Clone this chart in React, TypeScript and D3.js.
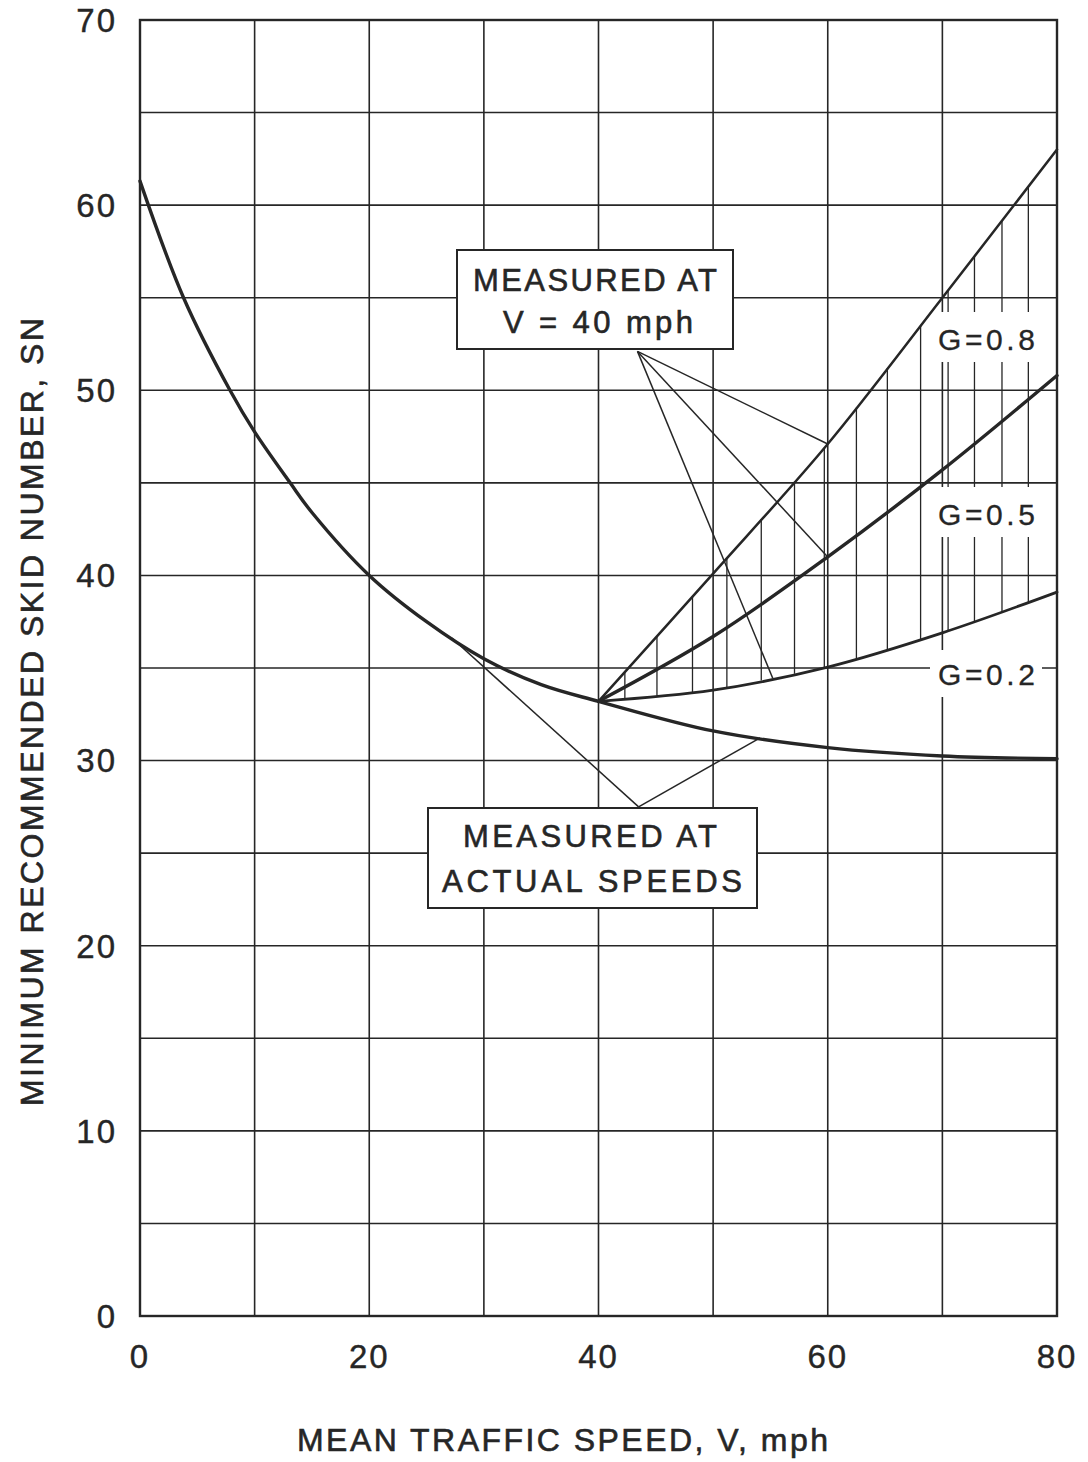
import * as d3 from "d3";

// axis ticks and grid
const SPEED_TICKS = [0, 20, 40, 60, 80];
const SN_TICKS = [0, 10, 20, 30, 40, 50, 60, 70];
const SPEED_GRID = [0, 10, 20, 30, 40, 50, 60, 70, 80];
const SN_GRID = [0, 5, 10, 15, 20, 25, 30, 35, 40, 45, 50, 55, 60, 65, 70];

// minimum recommended SN, measured at actual speeds
const baseCurve: [number, number][] = [
  [0, 61.3], [3.8, 55], [7.85, 50], [10, 47.75], [13.1, 45], [15, 43.4],
  [20, 40], [25, 37.5], [30, 35.5], [35, 34.1], [40, 33.2], [50, 31.6],
  [60, 30.7], [70, 30.25], [80, 30.1],
];

// measured at V = 40 mph, by gradient G
const g08: [number, number][] = [[40, 33.2], [50, 40.1], [60, 47.1], [70, 55], [80, 63]];
const g05: [number, number][] = [[40, 33.2], [50, 36.7], [60, 41], [70, 45.7], [80, 50.8]];
const g02: [number, number][] = [[40, 33.2], [50, 33.8], [60, 35.05], [70, 36.9], [80, 39.1]];

// hatch positions (mph) between G=0.2 and G=0.8
const hatchSpeeds = [42.3, 45.1, 48.2, 51.2, 54.2, 57.1, 59.7, 62.5, 65.2, 68.1, 70.5, 72.8, 75.2, 77.5];

const W = 1088;
const H = 1462;
const INK = "#262626";
const FONT = "'Liberation Sans', Arial, sans-serif";

const x = d3.scaleLinear().domain([0, 80]).range([140, 1057]);
const y = d3.scaleLinear().domain([0, 70]).range([1316, 20]);

const line = d3
  .line<[number, number]>()
  .x((d) => x(d[0]))
  .y((d) => y(d[1]))
  .curve(d3.curveCatmullRom.alpha(0.5));

const interp = (pts: [number, number][]) =>
  d3.scaleLinear().domain(pts.map((p) => p[0])).range(pts.map((p) => p[1]));

const top08 = interp(g08);
const top05 = interp(g05);
const bot02 = interp(g02);
const base = interp(baseCurve);

// leader lines from the two boxes (speed, SN)
const v40Anchor: [number, number] = [43.4, 52.1];
const v40Targets: [number, number][] = [
  [60, top08(60)],
  [60, top05(60)],
  [55.2, bot02(55.2)],
];
const actualAnchor: [number, number] = [43.5, 27.5];
const actualTargets: [number, number][] = [
  [27.2, base(27.2)],
  [54.1, base(54.1)],
];

const gLabels = [
  { text: "G=0.8", yBase: 350, top: 312, bottom: 362 },
  { text: "G=0.5", yBase: 525, top: 487, bottom: 537 },
  { text: "G=0.2", yBase: 685, top: 650, bottom: 697 },
];

const textInk = { fill: INK, stroke: INK, strokeWidth: 0.6 };

const App = () => {
  return (
    <svg
      width={W}
      height={H}
      style={{ position: "absolute", left: 0, top: 0, background: "#fff" }}
      fontFamily={FONT}
    >
      <rect x={0} y={0} width={W} height={H} fill="#fff" />

      {/* grid */}
      <g stroke={INK} strokeWidth={1.6}>
        {SPEED_GRID.map((s) => (
          <line key={"vx" + s} x1={x(s)} x2={x(s)} y1={y(70)} y2={y(0)} />
        ))}
        {SN_GRID.map((v) => (
          <line key={"hy" + v} x1={x(0)} x2={x(80)} y1={y(v)} y2={y(v)} />
        ))}
      </g>

      {/* hatch between G=0.2 and G=0.8 */}
      <g stroke={INK} strokeWidth={1.3}>
        {hatchSpeeds.map((s) => (
          <line key={"h" + s} x1={x(s)} x2={x(s)} y1={y(bot02(s))} y2={y(top08(s))} />
        ))}
      </g>

      {/* label backgrounds */}
      {gLabels.map((g) => (
        <rect key={"bg" + g.text} x={930} y={g.top} width={112} height={g.bottom - g.top} fill="#fff" />
      ))}

      {/* curves */}
      <g fill="none" stroke={INK} strokeLinecap="round">
        <path d={line(baseCurve) ?? ""} strokeWidth={3.4} />
        <path d={line(g08) ?? ""} strokeWidth={2.5} />
        <path d={line(g05) ?? ""} strokeWidth={3.4} />
        <path d={line(g02) ?? ""} strokeWidth={2.8} />
      </g>

      {/* leaders */}
      <g stroke={INK} strokeWidth={1.5}>
        {v40Targets.map((t, i) => (
          <line key={"l40" + i} x1={x(v40Anchor[0])} y1={y(v40Anchor[1])} x2={x(t[0])} y2={y(t[1])} />
        ))}
        {actualTargets.map((t, i) => (
          <line key={"la" + i} x1={x(actualAnchor[0])} y1={y(actualAnchor[1])} x2={x(t[0])} y2={y(t[1])} />
        ))}
      </g>

      {/* G labels */}
      {gLabels.map((g) => (
        <text
          key={g.text}
          x={938}
          y={g.yBase}
          fontSize={30}
          {...textInk}
          strokeWidth={0.3}
          textLength={97}
          lengthAdjust="spacing"
        >
          {g.text}
        </text>
      ))}

      {/* annotation boxes */}
      <g>
        <rect x={457} y={250} width={276} height={99} fill="#fff" stroke={INK} strokeWidth={2} />
        <text x={473} y={291} fontSize={31} {...textInk} textLength={244} lengthAdjust="spacing">
          MEASURED  AT
        </text>
        <text x={503} y={333} fontSize={31} {...textInk} textLength={190} lengthAdjust="spacing">
          V = 40 mph
        </text>
      </g>
      <g>
        <rect x={428} y={808} width={329} height={100} fill="#fff" stroke={INK} strokeWidth={2} />
        <text x={463} y={847} fontSize={31} {...textInk} textLength={254} lengthAdjust="spacing">
          MEASURED  AT
        </text>
        <text x={442} y={892} fontSize={31} {...textInk} textLength={300} lengthAdjust="spacing">
          ACTUAL  SPEEDS
        </text>
      </g>

      {/* frame */}
      <rect
        x={x(0)}
        y={y(70)}
        width={x(80) - x(0)}
        height={y(0) - y(70)}
        fill="none"
        stroke={INK}
        strokeWidth={2.4}
      />

      {/* tick labels */}
      <g fontSize={33} {...textInk} strokeWidth={0.4}>
        {SN_TICKS.map((v) => (
          <text key={"ty" + v} x={117} y={y(v)} dy="0.36em" textAnchor="end" letterSpacing={2}>
            {v}
          </text>
        ))}
        {SPEED_TICKS.map((s) => (
          <text key={"tx" + s} x={x(s)} y={1368} textAnchor="middle" letterSpacing={2}>
            {s}
          </text>
        ))}
      </g>

      {/* axis titles */}
      <text x={297} y={1451} fontSize={32} {...textInk} textLength={531} lengthAdjust="spacing">
        MEAN TRAFFIC SPEED, V, mph
      </text>
      <text
        transform="translate(43,1106) rotate(-90)"
        fontSize={32}
        {...textInk}
        textLength={788}
        lengthAdjust="spacing"
      >
        MINIMUM RECOMMENDED SKID NUMBER, SN
      </text>
    </svg>
  );
};

export default App;
